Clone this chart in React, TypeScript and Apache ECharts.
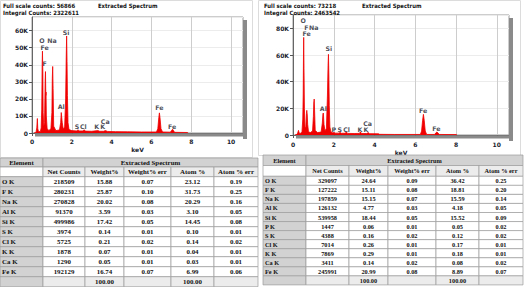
import React, { useEffect, useRef } from "react";
import * as echarts from "echarts";

// ---------- spectrum A (left) : [keV, counts] ----------
const spectrumA: [number, number][] = [
  [0.10, 0], [0.20, 300], [0.24, 3000], [0.27, 8500], [0.29, 2500], [0.33, 700], [0.42, 900],
  [0.46, 3000], [0.49, 14000], [0.51, 40000], [0.525, 48000], [0.545, 36000], [0.56, 12000],
  [0.59, 4000], [0.63, 6000], [0.66, 30000], [0.677, 36000], [0.695, 22000], [0.705, 24000],
  [0.72, 10000], [0.76, 2500], [0.85, 1500], [0.95, 2500], [1.00, 12000], [1.02, 32000],
  [1.04, 39000], [1.06, 26000], [1.09, 4000], [1.2, 1400], [1.38, 1800], [1.44, 6000],
  [1.47, 12000], [1.49, 12300], [1.52, 6000], [1.57, 2200], [1.64, 3500], [1.69, 20000],
  [1.72, 45000], [1.74, 56866], [1.76, 42000], [1.78, 22000], [1.81, 6000], [1.86, 2000],
  [2.0, 1400], [2.25, 1200], [2.31, 1900], [2.36, 1200], [2.56, 1200], [2.62, 1900],
  [2.68, 1100], [3.0, 1000], [3.31, 1400], [3.4, 1000], [3.59, 1000], [3.69, 1400],
  [3.8, 900], [4.2, 800], [4.8, 700], [5.5, 600], [6.25, 600], [6.32, 2500], [6.37, 9000],
  [6.40, 11800], [6.43, 9000], [6.48, 2500], [6.56, 600], [6.95, 500], [7.02, 1600],
  [7.06, 2200], [7.10, 1600], [7.16, 400], [7.8, 300], [7.85, 0],
];

// ---------- spectrum B (right) ----------
const spectrumB: [number, number][] = [
  [0.10, 0], [0.20, 500], [0.24, 2000], [0.27, 3500], [0.30, 1500], [0.35, 1200], [0.44, 2000],
  [0.48, 12000], [0.50, 30000], [0.515, 60000], [0.525, 73218], [0.54, 50000], [0.56, 20000],
  [0.59, 5000], [0.63, 6000], [0.66, 16000], [0.677, 18500], [0.70, 15000], [0.72, 8000],
  [0.76, 2500], [0.85, 1800], [0.96, 3000], [1.00, 14000], [1.02, 24000], [1.04, 27000],
  [1.06, 18000], [1.09, 3500], [1.2, 1800], [1.38, 2200], [1.44, 9000], [1.47, 16000],
  [1.49, 16500], [1.52, 8000], [1.57, 3000], [1.64, 5000], [1.69, 30000], [1.72, 52000],
  [1.74, 60500], [1.76, 45000], [1.78, 22000], [1.81, 6000], [1.86, 2500], [1.96, 1500],
  [2.01, 2000], [2.06, 1400], [2.26, 1400], [2.31, 2000], [2.36, 1300], [2.56, 1300],
  [2.62, 2300], [2.68, 1200], [3.0, 1100], [3.25, 1200], [3.31, 2200], [3.37, 1100],
  [3.62, 1100], [3.69, 1800], [3.76, 1000], [4.2, 900], [4.25, 500], [5.0, 400], [6.25, 400],
  [6.31, 3000], [6.36, 11000], [6.40, 15500], [6.44, 11000], [6.49, 3000], [6.56, 400],
  [6.95, 400], [7.01, 1600], [7.06, 2200], [7.11, 1600], [7.17, 400], [8.0, 300], [8.05, 0],
];

// ---------- peak labels [name, keV, counts] ----------
const peakLabelsA: [string, number, number][] = [
  ["O", 0.5, 54000], ["Na", 1.0, 54000], ["Fe", 0.63, 50000], ["Si", 1.71, 59000],
  ["F", 0.63, 40500], ["Al", 1.47, 15300], ["S", 2.26, 3600], ["Cl", 2.58, 3600],
  ["K", 3.25, 3600], ["K", 3.55, 3600], ["Ca", 3.68, 7000], ["Fe", 6.4, 14700], ["Fe", 7.04, 4100],
];
const peakLabelsB: [string, number, number][] = [
  ["O", 0.5, 86000], ["F", 0.66, 80700], ["Na", 1.02, 80700], ["Fe", 0.67, 76000],
  ["Si", 1.76, 65000], ["Al", 1.49, 20000], ["P", 2.0, 4500], ["S", 2.3, 4500],
  ["Cl", 2.63, 4500], ["K", 3.28, 4500], ["K", 3.58, 4500], ["Ca", 3.66, 9000],
  ["Fe", 6.39, 18700], ["Fe", 7.04, 5200],
];

const headerA = ["Full scale counts: 56866", "Integral Counts: 2322611", "Extracted Spectrum"];
const headerB = ["Full scale counts: 73218", "Integral Counts: 2463542", "Extracted Spectrum"];
const xTicks = { min: 0, max: 10.6, interval: 2 };

// ---------- tables ----------
const tableHeaders = ["Net Counts", "Weight%", "Weight% err", "Atom %", "Atom % err"];

const elementsA = ["O K", "F K", "Na K", "Al K", "Si K", "S K", "Cl K", "K K", "Ca K", "Fe K"];
const netCountsA = ["218509", "280231", "270828", "91370", "499986", "3974", "5725", "1878", "1290", "192129"];
const weightA = ["15.88", "25.87", "20.02", "3.59", "17.42", "0.14", "0.21", "0.07", "0.05", "16.74"];
const weightErrA = ["0.07", "0.10", "0.08", "0.03", "0.05", "0.01", "0.02", "0.01", "0.01", "0.07"];
const atomA = ["23.12", "31.73", "20.29", "3.10", "14.45", "0.10", "0.14", "0.04", "0.03", "6.99"];
const atomErrA = ["0.19", "0.25", "0.16", "0.05", "0.08", "0.01", "0.02", "0.01", "0.01", "0.06"];

const elementsB = ["O K", "F K", "Na K", "Al K", "Si K", "P K", "S K", "Cl K", "K K", "Ca K", "Fe K"];
const netCountsB = ["329097", "127222", "197859", "126132", "539958", "1447", "4388", "7014", "7869", "3411", "245991"];
const weightB = ["24.64", "15.11", "15.15", "4.77", "18.44", "0.06", "0.16", "0.26", "0.29", "0.14", "20.99"];
const weightErrB = ["0.09", "0.08", "0.07", "0.03", "0.05", "0.01", "0.02", "0.01", "0.01", "0.02", "0.08"];
const atomB = ["36.42", "18.81", "15.59", "4.18", "15.52", "0.05", "0.12", "0.17", "0.18", "0.08", "8.89"];
const atomErrB = ["0.25", "0.20", "0.14", "0.05", "0.09", "0.02", "0.02", "0.01", "0.01", "0.02", "0.07"];

const totalsRow = ["", "", "100.00", "", "100.00", ""];

// ---------- layout ----------
const GRID_A = { left: 32, top: 17, width: 211, height: 116 };
const GRID_B = { left: 293, top: 15, width: 216, height: 120 };

const SANS = "DejaVu Sans";
const SERIF = "Liberation Serif";
const RED = "#f00000";

function txt(text: string, x: number, y: number, o: any = {}) {
  const align = o.align || "left";
  const v = o.va || "middle";
  return {
    type: "text",
    silent: true,
    z: 10,
    style: {
      text,
      x,
      y,
      fill: o.fill || "#111",
      fontSize: o.size || 6,
      fontFamily: o.family || SANS,
      fontWeight: "bold",
      align,
      verticalAlign: v,
      textAlign: align,
      textVerticalAlign: v,
    },
  };
}

function rect(x: number, y: number, w: number, h: number, fill: string, stroke = "#9c9c9c", lw = 0.7) {
  return {
    type: "rect",
    silent: true,
    z: 5,
    shape: { x, y, width: w, height: h },
    style: { fill, stroke, lineWidth: lw },
  };
}

function buildTable(
  edges: number[],
  top: number,
  h1: number,
  h2: number,
  rowH: number,
  cols: string[][],
  size: number
) {
  const GRAY = "#d2d2d2";
  const LIGHT = "#ececec";
  const WHITE = "#ffffff";
  const els: any[] = [];
  const fx = { size, family: SERIF };
  const mid = (i: number) => (edges[i] + edges[i + 1]) / 2;
  els.push(rect(edges[0], top, edges[1] - edges[0], h1, GRAY));
  els.push(txt("Element", mid(0), top + h1 / 2, { ...fx, align: "center" }));
  els.push(rect(edges[1], top, edges[6] - edges[1], h1, GRAY));
  els.push(txt("Extracted Spectrum", (edges[1] + edges[6]) / 2, top + h1 / 2, { ...fx, align: "center" }));
  const y2 = top + h1;
  els.push(rect(edges[0], y2, edges[1] - edges[0], h2, WHITE));
  tableHeaders.forEach((h, i) => {
    els.push(rect(edges[i + 1], y2, edges[i + 2] - edges[i + 1], h2, LIGHT));
    els.push(txt(h, mid(i + 1), y2 + h2 / 2, { ...fx, align: "center" }));
  });
  const n = cols[0].length;
  const y0 = top + h1 + h2;
  for (let r = 0; r < n; r++) {
    const y = y0 + r * rowH;
    for (let c = 0; c < 6; c++) {
      els.push(rect(edges[c], y, edges[c + 1] - edges[c], rowH, c === 0 ? GRAY : WHITE));
      if (c === 0) els.push(txt(cols[c][r], edges[0] + 2, y + rowH / 2, { ...fx }));
      else els.push(txt(cols[c][r], mid(c), y + rowH / 2, { ...fx, align: "center" }));
    }
  }
  const yt = y0 + n * rowH;
  for (let c = 0; c < 6; c++) {
    els.push(rect(edges[c], yt, edges[c + 1] - edges[c], rowH, c === 0 ? GRAY : LIGHT));
    if (totalsRow[c]) els.push(txt(totalsRow[c], mid(c), yt + rowH / 2, { ...fx, align: "center" }));
  }
  return els;
}

function axisPair(gridIndex: number, yMax: number, yInterval: number) {
  const labelStyle = { fontSize: 6, fontWeight: "bold" as const, color: "#1a1d2e", fontFamily: SANS };
  const xAxis = {
    gridIndex,
    type: "value",
    min: xTicks.min,
    max: xTicks.max,
    interval: xTicks.interval,
    axisLine: { show: true, onZero: false, lineStyle: { color: "#666", width: 1 } },
    axisTick: { show: true, length: 3, lineStyle: { color: "#555" } },
    axisLabel: { ...labelStyle, margin: gridIndex === 0 ? 5 : 6, showMaxLabel: false },
    splitLine: { show: true, lineStyle: { color: "#cdcdcd", width: 1 } },
    name: "keV",
    nameLocation: "middle",
    nameGap: gridIndex === 0 ? 13 : 14,
    nameTextStyle: { ...labelStyle },
  };
  const yAxis = {
    gridIndex,
    type: "value",
    min: 0,
    max: yMax,
    interval: yInterval,
    axisLine: { show: true, lineStyle: { color: "#666", width: 1 } },
    axisTick: { show: true, length: 3, lineStyle: { color: "#555" } },
    axisLabel: {
      ...labelStyle,
      margin: 4,
      showMaxLabel: false,
      formatter: (v: number) => (v === 0 ? "0" : v / 1000 + "K"),
    },
    splitLine: { show: true, lineStyle: { color: "#ececec", width: 1 } },
  };
  return { xAxis, yAxis };
}

function spectrumSeries(idx: number, data: [number, number][]) {
  return {
    type: "line",
    xAxisIndex: idx,
    yAxisIndex: idx,
    data,
    symbol: "none",
    showSymbol: false,
    lineStyle: { color: RED, width: 0.8 },
    itemStyle: { color: RED },
    areaStyle: { color: RED, opacity: 1 },
    z: 3,
  };
}

function labelSeries(idx: number, labels: [string, number, number][]) {
  return {
    type: "scatter",
    xAxisIndex: idx,
    yAxisIndex: idx,
    symbolSize: 0,
    silent: true,
    z: 6,
    data: labels.map(([name, x, y]) => ({ name, value: [x, y] })),
    label: {
      show: true,
      position: "inside",
      formatter: "{b}",
      fontSize: 6.3,
      fontWeight: "bold",
      color: "#1a1d2e",
      fontFamily: SANS,
    },
  };
}

export default function App() {
  const ref = useRef<HTMLDivElement>(null);

  useEffect(() => {
    if (!ref.current) return;
    const chart = echarts.init(ref.current, undefined, { renderer: "svg" });
    const a = axisPair(0, 68000, 10000);
    const b = axisPair(1, 90000, 20000);

    const shadow = (g: any) => [
      rect(g.left + g.width, g.top + 3, 4, g.height + 3, "#8a8a8a", "none", 0),
      rect(g.left + 3, g.top + g.height + 0.5, g.width + 1, 3, "#8a8a8a", "none", 0),
    ];
    const hs = { size: 5.9, family: "DejaVu Sans Condensed" };

    const graphics: any[] = [
      { type: "rect", silent: true, z: 0, shape: { x: 0.5, y: 0.5, width: 252, height: 157 }, style: { fill: "none", stroke: "#dcdcdc", lineWidth: 1 } },
      { type: "rect", silent: true, z: 0, shape: { x: 258.5, y: 0.5, width: 262, height: 155 }, style: { fill: "none", stroke: "#dcdcdc", lineWidth: 1 } },
      ...shadow(GRID_A),
      ...shadow(GRID_B),
      txt(headerA[0], 3, 6, hs),
      txt(headerA[1], 3, 13, hs),
      txt(headerA[2], 98, 6, hs),
      txt(headerB[0], 264, 6, hs),
      txt(headerB[1], 264, 13, hs),
      txt(headerB[2], 362, 6, hs),
      ...buildTable([0, 43, 85, 124, 171, 214, 258], 158, 9, 9.7, 10.0,
        [elementsA, netCountsA, weightA, weightErrA, atomA, atomErrA], 6.9),
      ...buildTable([263, 306, 349, 388, 436, 479, 523], 155, 10.5, 10.8, 9.05,
        [elementsB, netCountsB, weightB, weightErrB, atomB, atomErrB], 6.3),
    ];

    chart.setOption({
      animation: false,
      backgroundColor: "#ffffff",
      grid: [
        { ...GRID_A, show: true, borderColor: "#9a9a9a", borderWidth: 1, backgroundColor: "#fff" },
        { ...GRID_B, show: true, borderColor: "#9a9a9a", borderWidth: 1, backgroundColor: "#fff" },
      ],
      xAxis: [a.xAxis, b.xAxis],
      yAxis: [a.yAxis, b.yAxis],
      series: [
        spectrumSeries(0, spectrumA),
        spectrumSeries(1, spectrumB),
        labelSeries(0, peakLabelsA),
        labelSeries(1, peakLabelsB),
      ],
      graphic: { elements: graphics },
    });
    return () => chart.dispose();
  }, []);

  return (
    <div
      ref={ref}
      style={{ position: "absolute", left: 0, top: 0, width: 527, height: 287 }}
    />
  );
}
